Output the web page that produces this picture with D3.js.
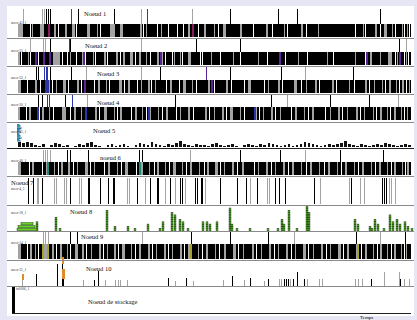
<!DOCTYPE html>
<html>
<head>
<meta charset="utf-8">
<script src="https://cdn.jsdelivr.net/npm/d3@7"></script>
<style>
  body { margin: 0; background: #e6e6f5; }
  svg { display: block; }
  text { font-family: "Liberation Serif", "DejaVu Serif", serif; }
</style>
</head>
<body>
<div id="chart"></div>
<script>
// ---- data (time units) ----
// spikes: [time, kind]   kind: k black, g gray, m magenta, p purple, b blue, o orange
const row1Spikes = [[5,'g'],[24,'g'],[26,'g'],[28,'k'],[30,'k'],[32,'k'],[53,'m'],[60,'k'],[96,'k'],[123,'g'],[129,'m'],[174,'g'],[212,'k'],[260,'k'],[279,'k'],[362,'k']];
const row1White = [12,40,58,82,125,139,150,159,165,180,200,235,254,269,288,337,347,362,377,386,391];
const row1Gray = [[0,5],[14,1],[22,4],[36,2],[47,2],[54,3],[69,3],[79,1],[92,5],[102,3],[122,2],[128,1],[143,1],[170,2],[186,2],[196,1],[205,3],[222,2],[248,2],[266,1],[283,2],[300,1],[345,1],[357,2],[366,3],[374,1],[384,1],[389,1]];
const row1Marks = [[30,'m'],[174,'m']];

const row2Spikes = [[12,'g'],[25,'g'],[27,'g'],[32,'k'],[51,'p'],[52,'k'],[123,'g'],[178,'k'],[222,'k'],[381,'k'],[388,'g']];
const row2White = [3,12,20,44,49,58,67,77,89,102,117,132,147,154,164,182,184,202,222,249,267,289,315,347,377,386,390];
const row2Gray = [[0,2],[10,1],[18,1],[35,5],[40,2],[52,1],[64,2],[75,1],[86,2],[98,2],[105,2],[112,3],[121,2],[128,1],[139,2],[143,2],[156,1],[162,1],[170,3],[193,1],[215,1],[240,1],[280,1],[309,1],[337,1],[352,2],[362,1],[370,4],[379,1],[388,1]];
const row2Marks = [[17,'p'],[25,'p'],[31,'p'],[65,'p'],[142,'p'],[261,'p'],[348,'p'],[381,'p']];

const row3Spikes = [[18,'k'],[20,'k'],[26,'b'],[28,'b'],[29,'p'],[32,'k'],[53,'k'],[68,'g'],[123,'g'],[142,'k'],[188,'p'],[212,'k'],[263,'k'],[287,'g'],[335,'k']];
const row3White = [9,22,34,50,63,76,91,106,119,133,148,161,178,196,213,226,246,264,283,301,318,336,351,367,381,388];
const row3Gray = [[0,3],[17,2],[30,2],[38,1],[45,3],[59,2],[66,1],[80,2],[88,1],[101,3],[110,2],[123,1],[130,2],[137,1],[152,2],[165,3],[174,1],[190,2],[208,2],[230,3],[250,1],[260,2],[276,3],[288,1],[297,2],[314,2],[331,1],[347,2],[356,1],[364,1],[371,2],[378,1],[384,2],[391,1]];
const row3Marks = [[27,'b'],[29,'b'],[66,'p'],[193,'p']];

const row4Spikes = [[20,'k'],[24,'k'],[29,'b'],[31,'b'],[47,'k'],[54,'b'],[69,'g'],[157,'k'],[253,'k'],[269,'g'],[312,'k'],[351,'k'],[380,'g']];
const row4White = [8,21,35,52,67,81,99,113,128,144,158,175,191,208,226,241,257,273,290,307,324,342,358,372,386];
const row4Gray = [[0,2],[11,2],[24,2],[31,1],[44,4],[56,2],[63,1],[77,2],[86,3],[96,1],[102,2],[117,2],[124,1],[131,2],[140,1],[148,2],[162,1],[170,2],[187,2],[196,1],[204,2],[212,3],[222,1],[237,2],[245,1],[253,2],[262,1],[277,2],[286,1],[294,2],[312,1],[320,2],[329,1],[338,2],[346,1],[355,1],[362,2],[369,1],[376,2],[383,1],[389,1]];
const row4Marks = [[19,'b'],[67,'b'],[130,'b'],[236,'b']];

// node 5: small activity bars (one per bin) and the stacked start marker
const row5Heights = [5,4,5,4,2,1,3,0,2,4,3,1,2,0,1,3,2,4,5,2,1,0,2,3,1,2,3,1,0,2,4,3,2,5,3,2,1,3,2,4,6,3,2,1,3,2,2,1,3,4,2,1,2,3,1,0,2,3,2,1,3,2,4,3,2,1,2,3,1,2,3,5,4,3,2,1,2,3,2,3,4,6,3,2,1,3,2,1,2,3,2,4,3,2,1,2,3,2];
const row5Start = [2,3,2,4,3,2,3,1,2,3,2,4,2,3];

const row6Spikes = [[25,'g'],[27,'g'],[29,'g'],[32,'g'],[49,'k'],[52,'k'],[70,'k'],[121,'k'],[124,'k'],[172,'g'],[222,'k'],[262,'k'],[287,'g'],[322,'k'],[365,'k']];
const row6White = [11,24,40,55,72,86,103,118,136,151,168,186,202,219,236,253,270,288,306,323,340,357,373,387];
const row6Gray = [[0,3],[14,2],[28,3],[36,1],[43,2],[50,2],[59,1],[67,3],[76,1],[90,2],[99,1],[107,3],[123,2],[131,1],[139,2],[147,1],[155,3],[164,1],[172,2],[181,1],[189,2],[197,3],[206,1],[214,2],[224,2],[240,1],[248,2],[257,1],[265,2],[274,2],[283,1],[292,2],[301,1],[310,2],[319,1],[327,2],[336,1],[344,2],[353,1],[361,2],[369,1],[376,2],[384,1],[389,2]];
const row6Marks = [[29,'t'],[121,'t']];

// node 7: events only
const row7Events = [[10,'k'],[15,'k'],[19,'g'],[20,'g'],[24,'k'],[36,'g'],[38,'g'],[46,'g'],[48,'g'],[52,'k'],[61,'g'],[63,'g'],[70,'k'],[71,'k'],[82,'k'],[90,'k'],[95,'k'],[96,'k'],[109,'g'],[111,'g'],[119,'k'],[127,'g'],[132,'k'],[139,'k'],[140,'k'],[147,'g'],[152,'k'],[157,'g'],[162,'k'],[164,'k'],[167,'g'],[177,'k'],[179,'k'],[183,'k'],[184,'k'],[187,'g'],[202,'k'],[219,'k'],[228,'k'],[232,'g'],[239,'k'],[249,'g'],[251,'g'],[257,'k'],[261,'k'],[267,'k'],[296,'k'],[302,'g'],[331,'g'],[333,'k'],[342,'g'],[346,'g'],[364,'k'],[366,'k'],[368,'k'],[371,'g'],[373,'g'],[377,'g']];

// node 8: stacked task counts [time, count] and the long tasks at start [from, to, level]
const row8Stacks = [[19,4],[38,6],[42,1],[89,9],[97,2],[110,2],[117,1],[130,3],[142,1],[145,4],[154,8],[157,7],[162,5],[165,4],[170,1],[185,4],[189,4],[192,3],[199,4],[212,10],[214,3],[219,1],[232,1],[250,1],[260,1],[264,5],[266,3],[271,9],[279,1],[289,11],[291,8],[337,5],[340,3],[352,2],[354,1],[357,5],[360,3],[366,1],[372,7],[375,4],[379,5],[382,3],[387,4],[390,2],[394,1]];
const row8Long = [[-1,19,0],[0,17,1],[3,15,2]];

const row9Spikes = [[25,'g'],[27,'g'],[30,'g'],[52,'k'],[59,'k'],[124,'g'],[173,'k'],[212,'k'],[250,'k'],[276,'g'],[338,'k'],[362,'g'],[387,'k']];
const row9White = [9,20,38,52,68,85,100,117,134,150,166,184,201,220,238,256,273,290,308,325,343,359,373,386];
const row9Gray = [[0,3],[12,2],[17,1],[26,3],[34,2],[42,2],[49,1],[57,3],[64,2],[73,1],[81,2],[89,1],[96,2],[104,3],[113,1],[121,2],[130,2],[138,1],[146,2],[154,1],[162,2],[170,3],[180,1],[188,2],[197,1],[206,2],[215,3],[225,1],[234,2],[243,1],[251,2],[260,1],[268,2],[277,1],[285,3],[295,1],[303,2],[312,1],[320,3],[329,2],[338,1],[347,2],[355,1],[362,2],[369,1],[376,2],[383,1],[388,1]];
const row9Marks = [[24,'y'],[29,'y'],[172,'y'],[339,'y']];

// node 10: segments [time, from, to, kind]
const row10Segs = [[4,0,6,'g'],[4,6,12,'o'],[18,0,12,'k'],[39,0,22,'k'],[44,0,7,'k'],[44,7,17,'o'],[44,17,22,'k'],[44,22,29,'o'],[45,0,7,'k'],[45,7,17,'o'],
  [65,0,6,'g'],[76,0,6,'k'],[80,0,15,'k'],[87,0,6,'g'],[97,0,6,'g'],[100,0,6,'g'],[102,0,6,'g'],[109,0,6,'g'],
  [150,0,8,'k'],[157,0,5,'g'],[168,0,8,'k'],[175,0,5,'g'],[205,0,6,'g'],[214,0,10,'k'],[226,0,6,'g'],[232,0,8,'k'],[246,0,5,'g'],[250,0,7,'k'],
  [261,0,7,'g'],[263,0,7,'g'],[266,0,7,'k'],[268,0,7,'k'],[270,0,7,'k'],[272,0,7,'g'],[275,0,7,'k'],[279,0,14,'k'],[286,0,7,'k'],[289,0,7,'g'],
  [301,0,7,'g'],[304,0,7,'g'],[337,0,7,'g'],[340,0,7,'g'],[344,0,7,'g'],[353,0,7,'k'],[366,0,14,'g'],[381,0,14,'g'],[382,0,7,'k'],[386,0,7,'g'],[391,0,7,'g']];

// storage node
const storageBusy = [[-6,-3]];

const timeDomain = [0, 393];

// ---- drawing ----
const COLORS = {k:'#000', g:'#a3a3a3', m:'#8a1d5e', p:'#5b2596', b:'#2b35a8', t:'#1c8c7c', y:'#a6a22a', o:'#e08a2a'};

const width = 417, height = 320;
const svg = d3.select('#chart').append('svg')
  .attr('width', width).attr('height', height)
  .attr('shape-rendering', 'crispEdges');

svg.append('rect').attr('width', width).attr('height', height).attr('fill', '#e6e6f5');
svg.append('rect').attr('x', 7).attr('y', 6).attr('width', 407).attr('height', 310).attr('fill', '#fff');

const x = d3.scaleLinear().domain(timeDomain).range([18, 411]);

// rows with a busy lane
const lanes = [
  {spikes: row1Spikes, white: row1White, gray: row1Gray, marks: row1Marks, sTop: 9, bTop: 24, bBot: 37},
  {spikes: row2Spikes, white: row2White, gray: row2Gray, marks: row2Marks, sTop: 39, bTop: 52, bBot: 65},
  {spikes: row3Spikes, white: row3White, gray: row3Gray, marks: row3Marks, sTop: 67, bTop: 80, bBot: 93},
  {spikes: row4Spikes, white: row4White, gray: row4Gray, marks: row4Marks, sTop: 95, bTop: 107, bBot: 120},
  {spikes: row6Spikes, white: row6White, gray: row6Gray, marks: row6Marks, sTop: 150, bTop: 162, bBot: 175},
  {spikes: row9Spikes, white: row9White, gray: row9Gray, marks: row9Marks, sTop: 232, bTop: 244, bBot: 259}
];

lanes.forEach(L => {
  const g = svg.append('g');
  g.selectAll(null).data(L.spikes).enter().append('line')
    .attr('x1', d => Math.round(x(d[0])) + 0.5).attr('x2', d => Math.round(x(d[0])) + 0.5)
    .attr('y1', L.sTop).attr('y2', L.bTop)
    .attr('stroke', d => COLORS[d[1]]).attr('stroke-width', 1);
  g.append('rect')
    .attr('x', x(timeDomain[0])).attr('y', L.bTop)
    .attr('width', x(timeDomain[1]) - x(timeDomain[0])).attr('height', L.bBot - L.bTop)
    .attr('fill', '#000');
  g.selectAll(null).data(L.gray).enter().append('rect')
    .attr('x', d => x(d[0])).attr('y', L.bTop)
    .attr('width', d => Math.max(1, x(d[0] + d[1]) - x(d[0]))).attr('height', L.bBot - L.bTop)
    .attr('fill', COLORS.g);
  g.selectAll(null).data(L.white).enter().append('rect')
    .attr('x', d => x(d)).attr('y', L.bTop)
    .attr('width', 1).attr('height', L.bBot - L.bTop)
    .attr('fill', '#fff');
  g.selectAll(null).data(L.marks).enter().append('rect')
    .attr('x', d => x(d[0])).attr('y', L.bTop)
    .attr('width', 1.5).attr('height', L.bBot - L.bTop)
    .attr('fill', d => COLORS[d[1]]);
});

// node 5 mini bars
const band5 = d3.scaleBand().domain(d3.range(row5Heights.length)).range([x(0), x(393)]).paddingInner(0.35);
const y5 = d3.scaleLinear().domain([0, 7]).range([147, 140]);
svg.append('g').selectAll(null).data(row5Heights).enter().append('rect')
  .attr('x', (d, i) => band5(i)).attr('width', band5.bandwidth())
  .attr('y', d => y5(d)).attr('height', d => 147 - y5(d))
  .attr('fill', '#111');
const band5s = d3.scaleBand().domain(d3.range(row5Start.length)).range([124, 141]).paddingInner(0.25);
svg.append('g').selectAll(null).data(row5Start).enter().append('rect')
  .attr('x', x(0) - 1).attr('y', (d, i) => band5s(i))
  .attr('width', d => d).attr('height', band5s.bandwidth())
  .attr('fill', '#2bb3d6').attr('stroke', '#1b5e86').attr('stroke-width', 0.4);

// node 7 events
svg.append('g').selectAll(null).data(row7Events).enter().append('line')
  .attr('x1', d => Math.round(x(d[0])) + 0.5).attr('x2', d => Math.round(x(d[0])) + 0.5)
  .attr('y1', 178).attr('y2', 204)
  .attr('stroke', d => COLORS[d[1]]).attr('stroke-width', 1);

// node 8 stacked tasks
const y8 = d3.scaleLinear().domain([0, 12]).range([231, 203.4]);
const squares = [];
row8Stacks.forEach(([t, n]) => { for (let i = 0; i < n; i++) squares.push([t, i]); });
svg.append('g').attr('shape-rendering', 'auto').selectAll(null).data(squares).enter().append('rect')
  .attr('x', d => x(d[0]) - 0.9).attr('width', 1.8)
  .attr('y', d => y8(d[1] + 1)).attr('height', y8(0) - y8(1))
  .attr('fill', '#58c81c').attr('stroke', '#10290a').attr('stroke-width', 0.5);
svg.append('g').attr('shape-rendering', 'auto').selectAll(null).data(row8Long).enter().append('rect')
  .attr('x', d => x(d[0])).attr('width', d => x(d[1]) - x(d[0]))
  .attr('y', d => y8(d[2] * 1.25 + 1.1)).attr('height', 2.2)
  .attr('fill', '#63d41f').attr('stroke', '#1d3f10').attr('stroke-width', 0.5);

// node 10 segments
const y10 = d3.scaleLinear().domain([0, 30]).range([286, 256]);
svg.append('g').selectAll(null).data(row10Segs).enter().append('rect')
  .attr('x', d => Math.round(x(d[0]))).attr('width', d => d[3] === 'o' ? 2 : 1.2)
  .attr('y', d => y10(d[2])).attr('height', d => y10(d[1]) - y10(d[2]))
  .attr('fill', d => COLORS[d[3]]);

// storage
svg.append('g').selectAll(null).data(storageBusy).enter().append('rect')
  .attr('x', d => x(d[0])).attr('width', d => x(d[1]) - x(d[0]))
  .attr('y', 287).attr('height', 26).attr('fill', '#000');

// separators
const sepYs = [38.5, 66.5, 94.5, 122.5, 148, 176, 205, 231.5, 260, 286.5];
svg.append('g').selectAll(null).data(sepYs).enter().append('line')
  .attr('x1', 7).attr('x2', 414).attr('y1', d => d).attr('y2', d => d)
  .attr('stroke', (d, i) => i === 4 ? '#222' : '#8a8a8a').attr('stroke-width', 1);

// time axis
svg.append('line').attr('x1', x(-6)).attr('x2', x(393)).attr('y1', 313.5).attr('y2', 313.5)
  .attr('stroke', '#222').attr('stroke-width', 1.5);
svg.append('text').attr('x', 360).attr('y', 319).attr('font-size', 5).text('Temps');

// titles and host labels
const titles = [['Noeud 1', 84, 16], ['Noeud 2', 85, 48], ['Noeud 3', 97, 76], ['Noeud 4', 97, 105], ['Noeud 5', 93, 133],
  ['noeud 6', 100, 160], ['Noeud 7', 11, 185], ['Noeud 8', 70, 214], ['Noeud 9', 81, 239], ['Noeud 10', 86, 271], ['Noeud de stockage', 88, 304]];
svg.append('g').selectAll(null).data(titles).enter().append('text')
  .attr('x', d => d[1]).attr('y', d => d[2]).attr('font-size', 6.5).attr('fill', '#111').text(d => d[0]);

const hosts = [['noeu-41_1', 11, 23.5], ['noeu-53_1', 11, 51.5], ['noeu-52_1', 11, 78.5], ['noeu-50_1', 11, 105.5], ['noeu-45_1', 11, 133],
  ['noeu-40_1', 11, 162], ['noeu-4_1', 11, 190], ['noeu-18_1', 11, 214], ['noeu-14_1', 11, 244], ['noeu-31_1', 11, 271], ['fs0006_1', 16, 290]];
svg.append('g').selectAll(null).data(hosts).enter().append('text')
  .attr('x', d => d[1]).attr('y', d => d[2]).attr('font-size', 3.6).attr('fill', '#333').text(d => d[0]);
</script>
</body>
</html>
